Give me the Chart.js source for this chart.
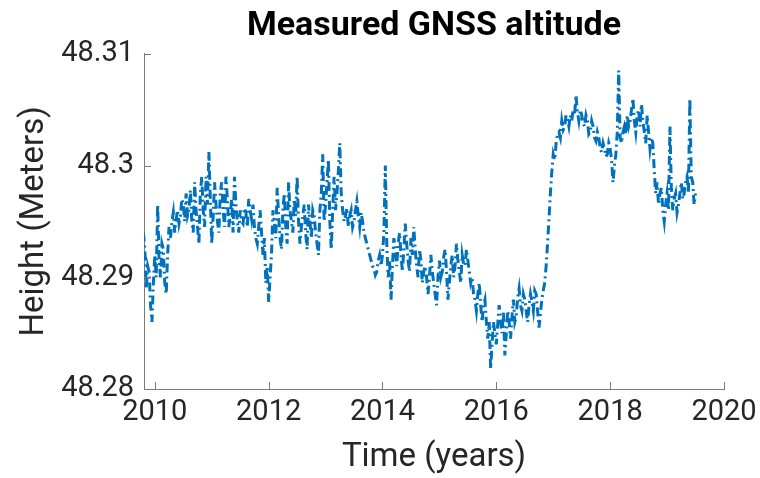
<!DOCTYPE html>
<html>
<head>
<meta charset="utf-8">
<script src="https://cdn.jsdelivr.net/npm/chart.js@4.4.1/dist/chart.umd.min.js"></script>
<style>
html,body{margin:0;padding:0;background:#fff;}
#wrap{width:760px;height:478px;}
</style>
</head>
<body>
<div id="wrap"><canvas id="c" width="760" height="478"></canvas></div>
<script>
const years = [
2009.800,2009.825,2009.850,2009.875,2009.900,2009.925,2009.950,2009.975,
2010.000,2010.025,2010.050,2010.075,2010.100,2010.125,2010.150,2010.175,2010.200,2010.225,2010.250,2010.275,2010.300,2010.325,2010.350,2010.375,2010.400,2010.425,2010.450,2010.475,2010.500,2010.525,2010.550,2010.575,2010.600,2010.625,2010.650,2010.675,2010.700,2010.725,2010.750,2010.775,2010.800,2010.825,2010.850,2010.875,2010.900,2010.925,2010.950,2010.975,
2011.000,2011.025,2011.050,2011.075,2011.100,2011.125,2011.150,2011.175,2011.200,2011.225,2011.250,2011.275,2011.300,2011.325,2011.350,2011.375,2011.400,2011.425,2011.450,2011.475,2011.500,2011.525,2011.550,2011.575,2011.600,2011.625,2011.650,2011.675,2011.700,2011.725,2011.750,2011.775,2011.800,2011.825,2011.850,2011.875,2011.900,2011.925,2011.950,2011.975,
2012.000,2012.025,2012.050,2012.075,2012.100,2012.125,2012.150,2012.175,2012.200,2012.225,2012.250,2012.275,2012.300,2012.325,2012.350,2012.375,2012.400,2012.425,2012.450,2012.475,2012.500,2012.525,2012.550,2012.575,2012.600,2012.625,2012.650,2012.675,2012.700,2012.725,2012.750,2012.775,2012.800,2012.825,2012.850,2012.875,2012.900,2012.925,2012.950,2012.975,
2013.000,2013.025,2013.050,2013.075,2013.100,2013.125,2013.150,2013.175,2013.200,2013.225,2013.250,2013.275,2013.300,2013.325,2013.350,2013.375,2013.400,2013.425,2013.450,2013.475,2013.500,2013.525,2013.550,2013.575,2013.600,2013.625,2013.650,2013.675,2013.700,2013.725,2013.750,2013.775,2013.800,2013.825,2013.850,2013.875,2013.900,2013.925,2013.950,2013.975,
2014.000,2014.025,2014.050,2014.075,2014.100,2014.125,2014.150,2014.175,2014.200,2014.225,2014.250,2014.275,2014.300,2014.325,2014.350,2014.375,2014.400,2014.425,2014.450,2014.475,2014.500,2014.525,2014.550,2014.575,2014.600,2014.625,2014.650,2014.675,2014.700,2014.725,2014.750,2014.775,2014.800,2014.825,2014.850,2014.875,2014.900,2014.925,2014.950,2014.975,
2015.000,2015.025,2015.050,2015.075,2015.100,2015.125,2015.150,2015.175,2015.200,2015.225,2015.250,2015.275,2015.300,2015.325,2015.350,2015.375,2015.400,2015.425,2015.450,2015.475,2015.500,2015.525,2015.550,2015.575,2015.600,2015.625,2015.650,2015.675,2015.700,2015.725,2015.750,2015.775,2015.800,2015.825,2015.850,2015.875,2015.900,2015.925,2015.950,2015.975,
2016.000,2016.025,2016.050,2016.075,2016.100,2016.125,2016.150,2016.175,2016.200,2016.225,2016.250,2016.275,2016.300,2016.325,2016.350,2016.375,2016.400,2016.425,2016.450,2016.475,2016.500,2016.525,2016.550,2016.575,2016.600,2016.625,2016.650,2016.675,2016.700,2016.725,2016.750,2016.775,2016.800,2016.825,2016.850,2016.875,2016.900,2016.925,2016.950,2016.975,
2017.000,2017.025,2017.050,2017.075,2017.100,2017.125,2017.150,2017.175,2017.200,2017.225,2017.250,2017.275,2017.300,2017.325,2017.350,2017.375,2017.400,2017.425,2017.450,2017.475,2017.500,2017.525,2017.550,2017.575,2017.600,2017.625,2017.650,2017.675,2017.700,2017.725,2017.750,2017.775,2017.800,2017.825,2017.850,2017.875,2017.900,2017.925,2017.950,2017.975,
2018.000,2018.025,2018.050,2018.075,2018.100,2018.125,2018.150,2018.175,2018.200,2018.225,2018.250,2018.275,2018.300,2018.325,2018.350,2018.375,2018.400,2018.425,2018.450,2018.475,2018.500,2018.525,2018.550,2018.575,2018.600,2018.625,2018.650,2018.675,2018.700,2018.725,2018.750,2018.775,2018.800,2018.825,2018.850,2018.875,2018.900,2018.925,2018.950,2018.975,
2019.000,2019.025,2019.050,2019.075,2019.100,2019.125,2019.150,2019.175,2019.200,2019.225,2019.250,2019.275,2019.300,2019.325,2019.350,2019.375,2019.400,2019.425,2019.450,2019.475,2019.500];

const heights = [
48.2940,48.2925,48.2890,48.2910,48.2905,48.2875,48.2860,48.2895,
48.2920,48.2900,48.2965,48.2915,48.2900,48.2930,48.2925,48.2895,48.2885,48.2920,48.2945,48.2935,48.2950,48.2958,48.2940,48.2952,48.2960,48.2948,48.2955,48.2970,48.2965,48.2950,48.2975,48.2955,48.2960,48.2978,48.2950,48.2940,48.2985,48.2960,48.2945,48.2930,48.2975,48.2990,48.2960,48.2945,48.2990,48.2965,48.3012,48.2970,
48.2930,48.2955,48.2985,48.2965,48.2950,48.2940,48.2975,48.2985,48.2960,48.2945,48.2990,48.2970,48.2945,48.2955,48.2970,48.2940,48.2990,48.2965,48.2950,48.2940,48.2960,48.2950,48.2948,48.2962,48.2958,48.2945,48.2970,48.2960,48.2952,48.2965,48.2945,48.2935,48.2930,48.2945,48.2960,48.2940,48.2920,48.2935,48.2895,48.2910,
48.2878,48.2900,48.2920,48.2960,48.2950,48.2935,48.2980,48.2955,48.2935,48.2925,48.2960,48.2975,48.2945,48.2930,48.2985,48.2960,48.2950,48.2940,48.2970,48.2955,48.2990,48.2950,48.2930,48.2945,48.2955,48.2965,48.2940,48.2925,48.2965,48.2950,48.2935,48.2960,48.2955,48.2940,48.2930,48.2920,48.2960,48.2975,48.3010,48.2950,
48.2965,48.2985,48.3005,48.2950,48.2925,48.2960,48.2990,48.2960,48.2975,48.2995,48.3020,48.2975,48.2960,48.2950,48.2955,48.2962,48.2945,48.2955,48.2960,48.2945,48.2950,48.2960,48.2968,48.2955,48.2945,48.2958,48.2950,48.2940,48.2935,48.2930,48.2925,48.2920,48.2915,48.2910,48.2908,48.2902,48.2905,48.2915,48.2920,48.2910,
48.2920,48.2940,48.3000,48.2930,48.2900,48.2915,48.2880,48.2910,48.2935,48.2925,48.2910,48.2930,48.2940,48.2920,48.2905,48.2925,48.2948,48.2930,48.2915,48.2905,48.2935,48.2920,48.2945,48.2925,48.2910,48.2900,48.2925,48.2915,48.2895,48.2905,48.2910,48.2900,48.2885,48.2900,48.2920,48.2905,48.2895,48.2885,48.2875,48.2900,
48.2915,48.2900,48.2905,48.2918,48.2925,48.2905,48.2880,48.2895,48.2910,48.2920,48.2900,48.2910,48.2930,48.2915,48.2905,48.2895,48.2920,48.2912,48.2910,48.2925,48.2915,48.2905,48.2895,48.2900,48.2885,48.2880,48.2870,48.2885,48.2895,48.2875,48.2860,48.2875,48.2880,48.2860,48.2845,48.2860,48.2818,48.2840,48.2860,48.2850,
48.2840,48.2858,48.2875,48.2860,48.2850,48.2870,48.2830,48.2850,48.2870,48.2860,48.2845,48.2865,48.2880,48.2860,48.2865,48.2882,48.2890,48.2875,48.2870,48.2885,48.2880,48.2870,48.2860,48.2875,48.2885,48.2878,48.2870,48.2888,48.2885,48.2870,48.2855,48.2868,48.2880,48.2888,48.2895,48.2910,48.2930,48.2952,48.2975,48.2995,
48.3010,48.3005,48.3020,48.3028,48.3030,48.3025,48.3040,48.3032,48.3035,48.3045,48.3042,48.3035,48.3045,48.3040,48.3050,48.3045,48.3063,48.3048,48.3040,48.3050,48.3045,48.3038,48.3035,48.3045,48.3040,48.3028,48.3030,48.3040,48.3035,48.3025,48.3022,48.3030,48.3025,48.3015,48.3012,48.3020,48.3015,48.3008,48.3010,48.3020,
48.3015,48.3005,48.2985,48.3000,48.3010,48.3030,48.3085,48.3025,48.3020,48.3030,48.3035,48.3028,48.3045,48.3035,48.3040,48.3050,48.3060,48.3040,48.3030,48.3045,48.3050,48.3035,48.3055,48.3040,48.3030,48.3020,48.3045,48.3030,48.3015,48.3025,48.3020,48.2995,48.2975,48.2985,48.2965,48.2975,48.2980,48.2960,48.2950,48.2965,
48.2975,48.2960,48.3035,48.2980,48.2960,48.2970,48.2975,48.2958,48.2965,48.2975,48.2985,48.2970,48.2975,48.2985,48.2990,48.2975,48.3060,48.2990,48.2985,48.2965,48.2975];

const xTickValues = [2010, 2012, 2014, 2016, 2018, 2020];
const yTickValues = [48.28, 48.29, 48.30, 48.31];
const yTickLabels = ['48.28', '48.29', '48.3', '48.31'];

const AXIS_COLOR = '#7a7a7a';
const TEXT_COLOR = '#262626';

const innerTicks = {
  id: 'innerTicks',
  afterDatasetsDraw(chart) {
    const ctx = chart.ctx;
    const xs = chart.scales.x, ys = chart.scales.y;
    const a = chart.chartArea;
    ctx.save();
    ctx.strokeStyle = AXIS_COLOR;
    ctx.lineWidth = 1;
    ctx.beginPath();
    xTickValues.forEach(v => {
      const px = Math.round(xs.getPixelForValue(v)) + 0.5;
      ctx.moveTo(px, a.bottom);
      ctx.lineTo(px, a.bottom - 7);
    });
    yTickValues.forEach(v => {
      const py = Math.round(ys.getPixelForValue(v)) + 0.5;
      ctx.moveTo(a.left, py);
      ctx.lineTo(a.left + 7, py);
    });
    ctx.stroke();
    ctx.restore();
  }
};

new Chart(document.getElementById('c'), {
  type: 'line',
  data: {
    datasets: [{
      data: years.map((y, i) => ({x: y, y: heights[i]})),
      borderColor: '#0072BD',
      borderWidth: 3,
      borderDash: [9, 4, 2, 4],
      pointRadius: 0,
      fill: false,
      tension: 0
    }]
  },
  options: {
    responsive: false,
    animation: false,
    layout: {padding: {left: 15, right: 36, top: 0, bottom: 0}},
    plugins: {
      legend: {display: false},
      tooltip: {enabled: false},
      title: {
        display: true,
        text: 'Measured GNSS altitude',
        color: '#000',
        fullSize: false,
        font: {family: 'Roboto', size: 34, weight: 'bold'},
        padding: {top: 6, bottom: 7}
      }
    },
    scales: {
      x: {
        type: 'linear',
        min: 2009.81,
        max: 2020,
        afterBuildTicks: s => { s.ticks = xTickValues.map(v => ({value: v})); },
        afterFit: s => { s.height = 89; s.paddingLeft = 0; s.paddingRight = 0; },
        grid: {display: false, drawTicks: false},
        border: {display: true, color: AXIS_COLOR, width: 1},
        ticks: {
          color: TEXT_COLOR,
          font: {family: 'Roboto', size: 29},
          padding: 6,
          maxRotation: 0,
          callback: v => String(v)
        },
        title: {
          display: true,
          text: 'Time (years)',
          color: TEXT_COLOR,
          font: {family: 'Roboto', size: 33},
          padding: {top: 0, bottom: 0}
        }
      },
      y: {
        type: 'linear',
        min: 48.28,
        max: 48.31,
        afterBuildTicks: s => { s.ticks = yTickValues.map(v => ({value: v})); },
        afterFit: s => { s.width = 129; },
        grid: {display: false, drawTicks: false},
        border: {display: true, color: AXIS_COLOR, width: 1},
        ticks: {
          color: TEXT_COLOR,
          font: {family: 'Roboto', size: 29},
          padding: 10,
          callback: (v, i) => yTickLabels[i]
        },
        title: {
          display: true,
          text: 'Height (Meters)',
          color: TEXT_COLOR,
          font: {family: 'Roboto', size: 33},
          padding: {top: 0, bottom: 0}
        }
      }
    }
  },
  plugins: [innerTicks]
});
</script>
</body>
</html>
